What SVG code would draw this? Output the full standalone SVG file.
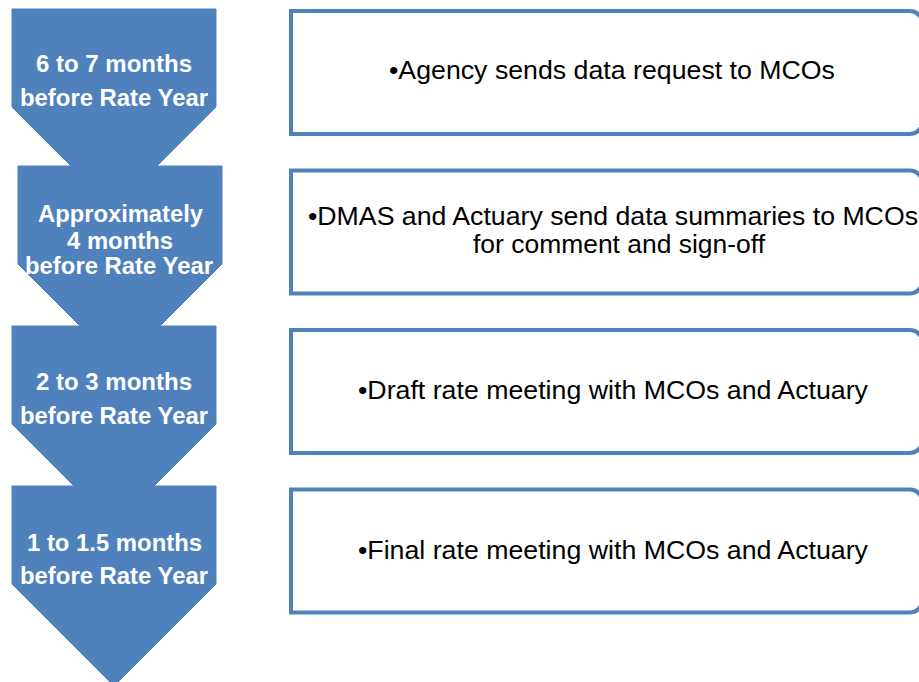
<svg xmlns="http://www.w3.org/2000/svg" width="919" height="682" viewBox="0 0 919 682">
<style>
.chev{fill:#4F81BD;stroke:#4F81BD;stroke-width:1;stroke-linejoin:round}
.box{fill:#FFFFFF;stroke:#4F81BD;stroke-width:4}
.ct{font-family:"Liberation Sans",Arial,sans-serif;font-weight:bold;font-size:23px;fill:#FFFFFF}
.bt{font-family:"Liberation Sans",Arial,sans-serif;font-size:25px;fill:#000000}
</style>
<rect width="919" height="682" fill="#FFFFFF"/>
<g id="chevron1">
<path class="chev" d="M12,9 H216 V107 L114,209 L12,107 Z"/>
<text class="ct" x="36" y="72" textLength="156" lengthAdjust="spacingAndGlyphs">6 to 7 months</text>
<text class="ct" x="20" y="106" textLength="188" lengthAdjust="spacingAndGlyphs">before Rate Year</text>
</g>
<g id="chevron2">
<path class="chev" d="M18,166 H222 V264 L120,366 L18,264 Z"/>
<text class="ct" x="38" y="222" textLength="165" lengthAdjust="spacingAndGlyphs">Approximately</text>
<text class="ct" x="67" y="249" textLength="106" lengthAdjust="spacingAndGlyphs">4 months</text>
<text class="ct" x="25" y="274" textLength="188" lengthAdjust="spacingAndGlyphs">before Rate Year</text>
</g>
<g id="chevron3">
<path class="chev" d="M12,326 H216 V424 L114,526 L12,424 Z"/>
<text class="ct" x="36" y="390" textLength="156" lengthAdjust="spacingAndGlyphs">2 to 3 months</text>
<text class="ct" x="20" y="424" textLength="188" lengthAdjust="spacingAndGlyphs">before Rate Year</text>
</g>
<g id="chevron4">
<path class="chev" d="M12,486 H216 V584 L114,686 L12,584 Z"/>
<text class="ct" x="27" y="551" textLength="175" lengthAdjust="spacingAndGlyphs">1 to 1.5 months</text>
<text class="ct" x="20" y="584" textLength="188" lengthAdjust="spacingAndGlyphs">before Rate Year</text>
</g>
<g id="box1">
<path class="box" d="M291,11 H910 A12,12 0 0 1 922,23 V122 A12,12 0 0 1 910,134 H291 Z"/>
<text class="bt" x="389" y="79" textLength="446" lengthAdjust="spacingAndGlyphs">•Agency sends data request to MCOs</text>
</g>
<g id="box2">
<path class="box" d="M291,170.5 H910 A12,12 0 0 1 922,182.5 V281.5 A12,12 0 0 1 910,293.5 H291 Z"/>
<text class="bt" x="308" y="225" textLength="610" lengthAdjust="spacingAndGlyphs">•DMAS and Actuary send data summaries to MCOs</text>
<text class="bt" x="473" y="253" textLength="292" lengthAdjust="spacingAndGlyphs">for comment and sign-off</text>
</g>
<g id="box3">
<path class="box" d="M291,330 H910 A12,12 0 0 1 922,342 V441 A12,12 0 0 1 910,453 H291 Z"/>
<text class="bt" x="358" y="399" textLength="510" lengthAdjust="spacingAndGlyphs">•Draft rate meeting with MCOs and Actuary</text>
</g>
<g id="box4">
<path class="box" d="M291,489.5 H910 A12,12 0 0 1 922,501.5 V600.5 A12,12 0 0 1 910,612.5 H291 Z"/>
<text class="bt" x="358" y="559" textLength="510" lengthAdjust="spacingAndGlyphs">•Final rate meeting with MCOs and Actuary</text>
</g>
<g id="connectors"></g>
</svg>
